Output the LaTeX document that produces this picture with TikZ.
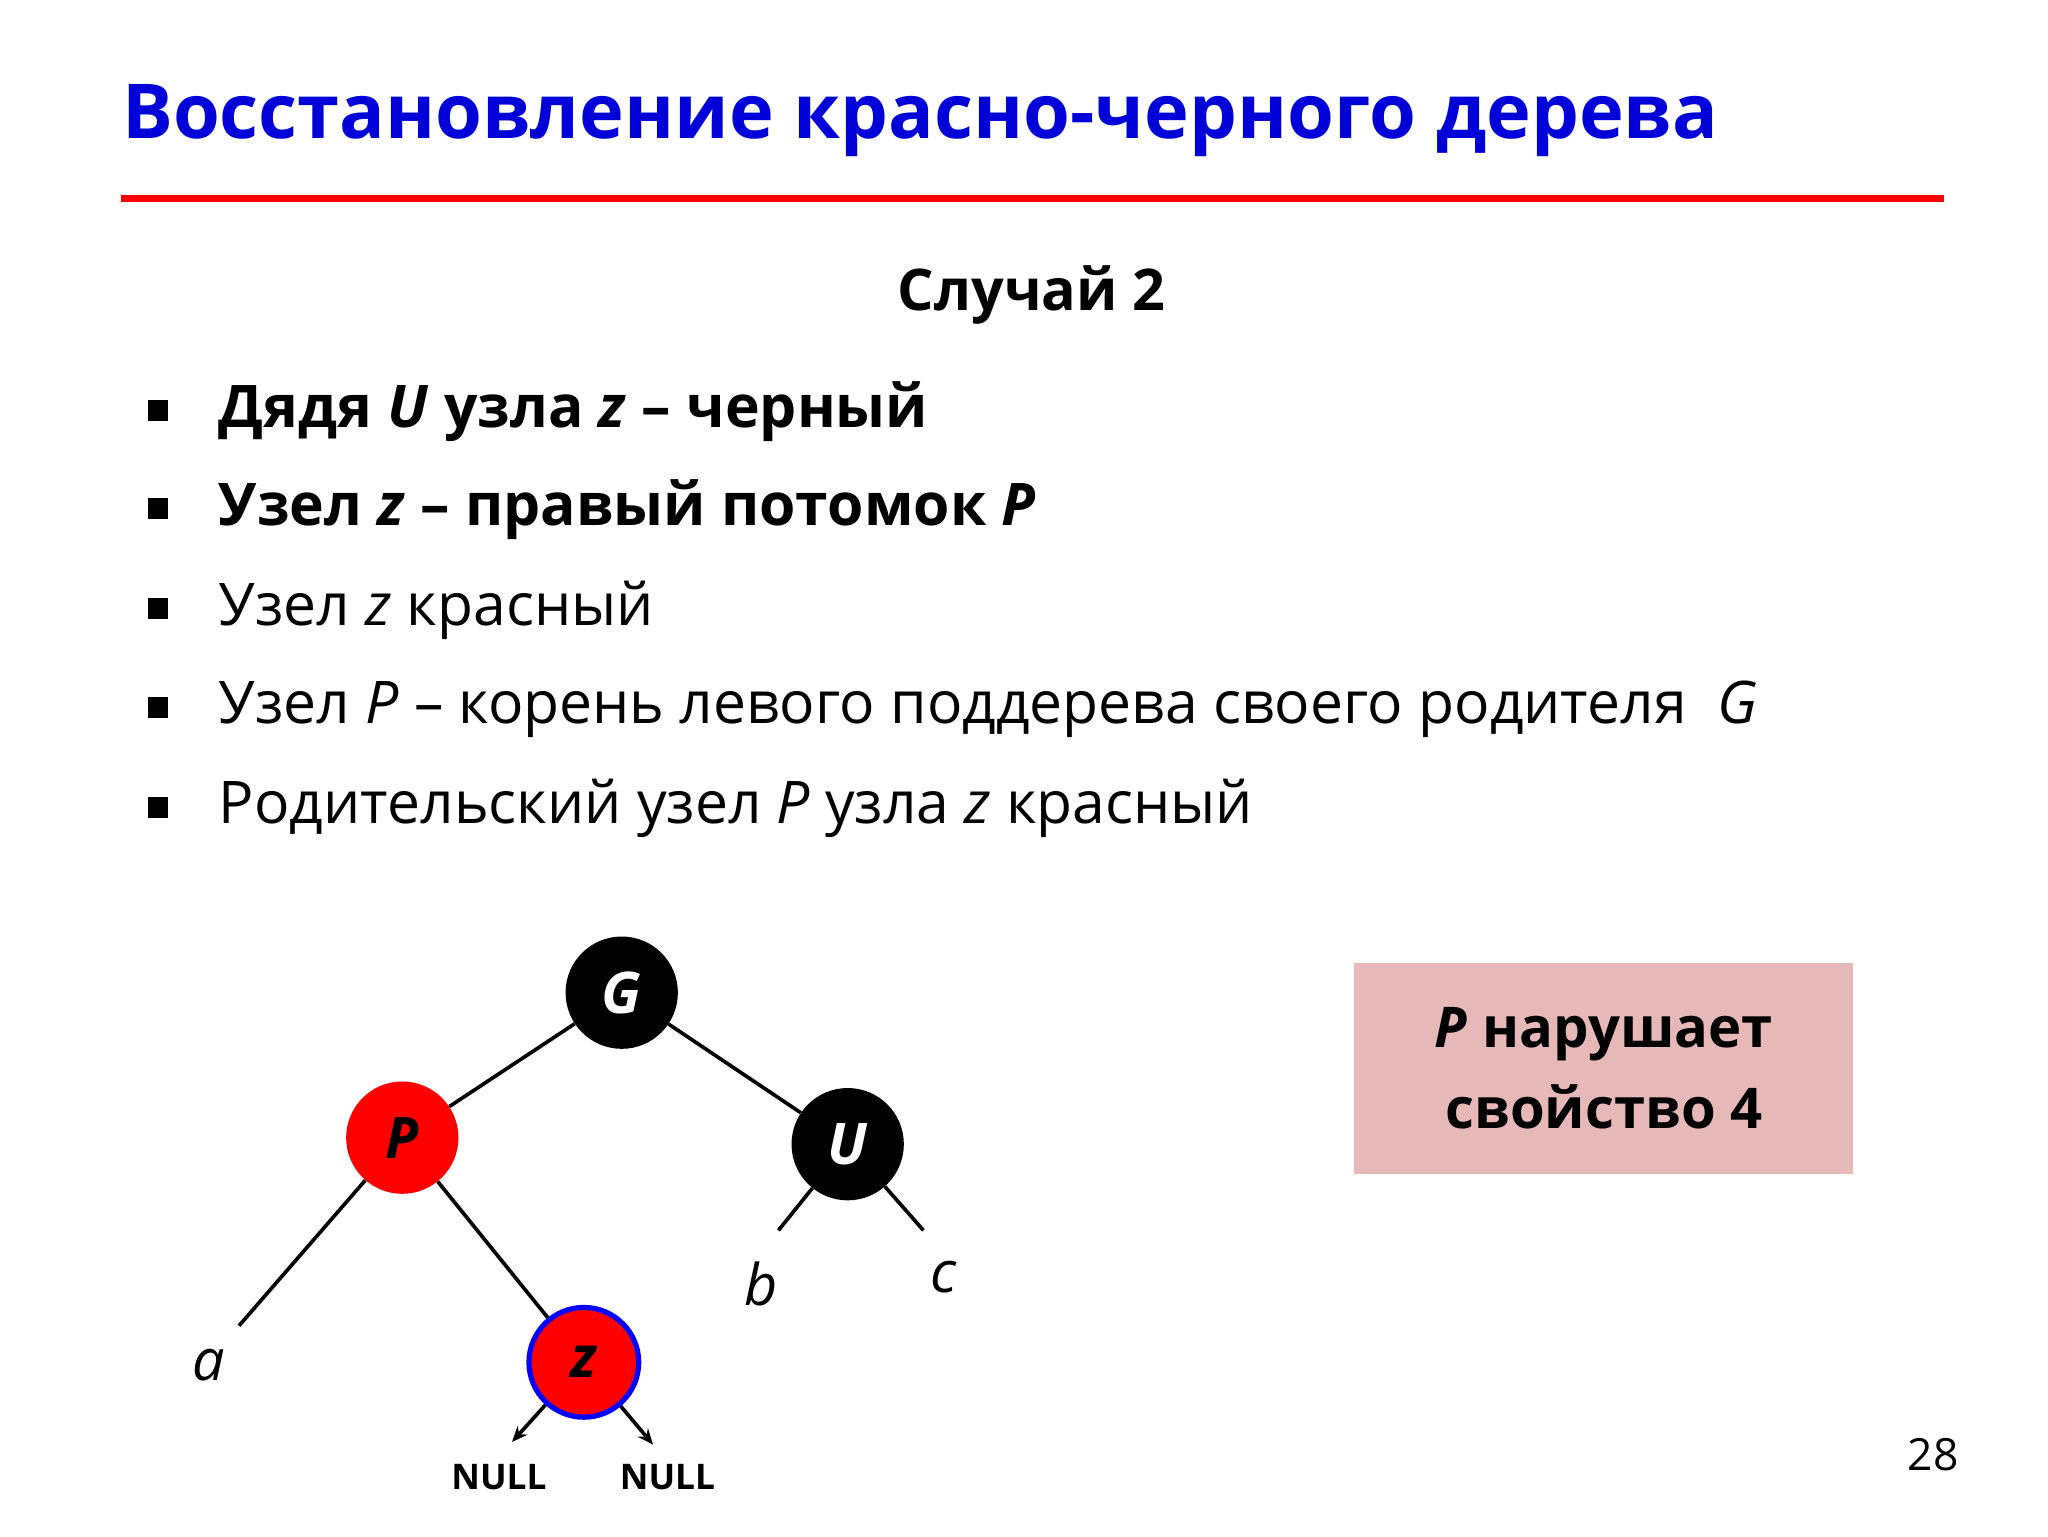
\documentclass[tikz,border=0pt]{standalone}
\usepackage{fontspec}
\setmainfont{Open Sans}
\usetikzlibrary{arrows.meta}
\begin{document}
\begin{tikzpicture}[x=1pt,y=-1pt,
  tn/.style={circle,minimum size=86pt,inner sep=0pt,font=\fontsize{44}{44}\selectfont\bfseries\itshape},
  bl/.style={circle,fill=black,text=white,tn},
  rd/.style={circle,fill=red,text=black,tn},
  edge/.style={line width=2.8pt},
  lbl/.style={font=\fontsize{44}{44}\selectfont\itshape},
  bul/.style={anchor=west,font=\fontsize{45}{52}\selectfont},
  nul/.style={font=\fontsize{27}{27}\selectfont\bfseries}]
\fill[white] (0,0) rectangle (1568,1176);
\node[anchor=west,text=blue!85!black,font=\fontsize{58}{58}\selectfont\bfseries] (title) at (90,92) {Восстановление красно-черного дерева};
\draw[red,line width=5pt] (93,152) -- (1488,152);
\node[font=\fontsize{44}{44}\selectfont\bfseries] (case) at (790,226) {Случай 2};
\foreach \y/\n in {315/1,390/2,467/3,543/4,619/5}{\fill (113,\y-9) rectangle (129,\y+7);}
\node[bul] (b1) at (164,315) {\bfseries Дядя \textit{U} узла \textit{z} – черный};
\node[bul] (b2) at (164,390) {\bfseries Узел \textit{z} – правый потомок \textit{P}};
\node[bul] (b3) at (164,467) {Узел \textit{z} красный};
\node[bul] (b4) at (164,543) {Узел \textit{P} – корень левого поддерева своего родителя \ \textit{G}};
\node[bul] (b5) at (164,619) {Родительский узел \textit{P} узла \textit{z} красный};
\node[fill={rgb,255:red,230;green,184;blue,183},minimum width=382pt,minimum height=162pt,align=center,font=\fontsize{43}{62}\selectfont\bfseries] (box) at (1228,818) {\textit{P} нарушает\\свойство 4};
\node[bl] (G) at (476,760) {G};
\node[rd] (P) at (308,871) {P};
\node[bl] (U) at (649,876) {U};
\node[rd,draw=blue,line width=4pt,minimum size=84pt] (z) at (447,1043) {z};
\coordinate (ea) at (183,1015);
\coordinate (eb) at (596,942);
\coordinate (ec) at (707,942);
\coordinate (n1) at (392,1104);
\coordinate (n2) at (500,1106);
\draw[edge] (G) -- (P);
\draw[edge] (G) -- (U);
\draw[edge] (P) -- (ea);
\draw[edge] (P) -- (z);
\draw[edge] (U) -- (eb);
\draw[edge] (U) -- (ec);
\draw[edge,-{Stealth[length=12pt,width=10pt]}] (z) -- (n1);
\draw[edge,-{Stealth[length=12pt,width=10pt]}] (z) -- (n2);
\node[lbl] (la) at (160,1045) {a};
\node[lbl] (lb) at (583,983) {b};
\node[lbl] (lc) at (722,978) {c};
\node[nul] (N1) at (382,1131) {NULL};
\node[nul] (N2) at (511,1131) {NULL};
\node[font=\fontsize{34}{34}\selectfont] (pg) at (1480,1114) {28};
\end{tikzpicture}
\end{document}
